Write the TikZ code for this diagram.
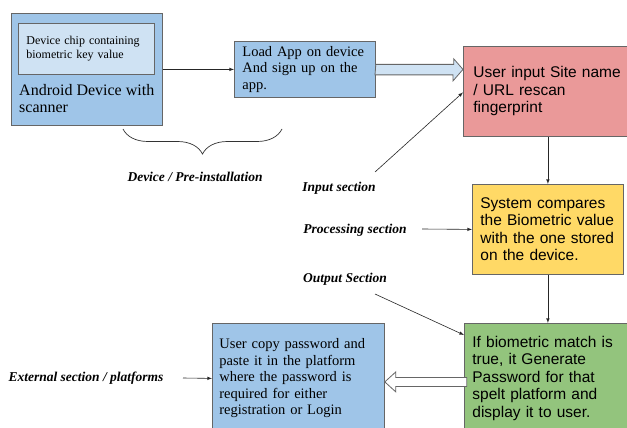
\documentclass[tikz,border=0pt]{standalone}
\usepackage{fontspec}
\setmainfont{Liberation Serif}
\newfontfamily\arialfont{Liberation Sans}
\usepackage{tikz}
\usetikzlibrary{arrows}
\usetikzlibrary{decorations.pathreplacing}

\definecolor{edgegray}{HTML}{666666}
\definecolor{devblue}{HTML}{9FC5E8}
\definecolor{chipblue}{HTML}{CFE2F3}
\definecolor{inputred}{HTML}{EA9999}
\definecolor{procyellow}{HTML}{FFD966}
\definecolor{outgreen}{HTML}{93C47D}

\tikzset{
  box/.style={draw=edgegray, line width=0.8pt, anchor=north west, inner sep=0pt, align=left},
  serifbox/.style={box, font=\fontsize{14.5}{16.5}\selectfont},
  sansbox/.style={box, font=\arialfont\fontsize{15.5}{17.5}\selectfont},
  seclabel/.style={font=\fontsize{13.5}{15}\selectfont\bfseries\itshape, inner sep=0pt},
  hollow/.style={draw=edgegray, line width=0.8pt, line join=miter},
  thinarrow/.style={->, >=latex, line width=0.6pt, draw=black!85}
}

\begin{document}
\begin{tikzpicture}[x=1pt, y=-1pt]
      \fill [white] (0,0) rectangle (627,428);
      \useasboundingbox (0,0) rectangle (627,428);

      % device / pre-installation
      \node (android) [box, fill=devblue, minimum width=151, minimum height=112] at (11,13) {};
      \node (chip) [box, fill=chipblue, font=\fontsize{12}{14}\selectfont,
        minimum width=136, minimum height=51, text width=120, inner xsep=8pt] at (18,23)
        {Device chip containing\\biometric key value};
      \node (androidtxt) [anchor=north west, inner sep=0pt, align=left,
        font=\fontsize{16}{17}\selectfont] at (19,84) {Android Device with\\scanner};
      \node (loadapp) [serifbox, fill=devblue, minimum width=141, minimum height=56,
        text width=125, inner xsep=8pt] at (234,41)
        {Load App on device\\And sign up on the\\app.};

      % sections
      \node (pink) [sansbox, fill=inputred, minimum width=180, minimum height=90,
        text width=160, inner xsep=10pt] at (463,46)
        {User input Site name\\/ URL rescan\\fingerprint};
      \node (yellow) [sansbox, fill=procyellow, minimum width=151, minimum height=90,
        text width=135, inner xsep=8pt] at (472,184)
        {System compares\\the Biometric value\\with the one stored\\on the device.};
      \node (green) [sansbox, fill=outgreen, minimum width=170, minimum height=110,
        text width=154, inner xsep=8pt] at (464,323)
        {If biometric match is\\true, it Generate\\Password for that\\spelt platform and\\display it to user.};
      \node (platform) [serifbox, fill=devblue, minimum width=172, minimum height=110,
        text width=158, inner xsep=7pt] at (212,323)
        {User copy password and\\paste it in the platform\\where the password is\\required for either\\registration or Login};

      % labels
      \node (devlabel) [seclabel] at (195,177) {Device / Pre-installation};
      \node (inlabel) [seclabel] at (339,188) {Input section};
      \node (proclabel) [seclabel] at (355,230) {Processing section};
      \node (outlabel) [seclabel] at (345,279) {Output Section};
      \node (extlabel) [seclabel] at (86,378) {External section / platforms};

      \coordinate (intail) at (375,172);
      \coordinate (proctail) at (422,229);
      \coordinate (outtail) at (375,294);
      \coordinate (exttail) at (183,378);
      \coordinate (bracel) at (123,129);
      \coordinate (bracer) at (282,129);

      \draw [decorate, decoration={brace, amplitude=25pt}, line width=0.7pt, draw=black!80] (bracer) -- (bracel);

      \draw [thinarrow] (android.east) -- (loadapp.west);
      \draw [thinarrow] (intail) -- ([yshift=-1pt]pink.west);
      \draw [thinarrow] (proctail) -- (yellow.west);
      \draw [thinarrow] (outtail) -- ([yshift=-12pt]green.north west);
      \draw [thinarrow] (exttail) -- (platform.west);
      \draw [thinarrow] (yellow.north |- pink.south) -- (yellow.north);
      \draw [thinarrow] (yellow.south) -- (yellow.south |- green.north);

      % block arrows
      \draw [hollow, fill=chipblue] ([yshift=5pt]loadapp.east) -- ++(78,0) -- ++(0,-5.5)
        -- (pink.west |- loadapp.east) -- ++(-10,11.5) -- ++(0,-6) -- ++(-78,0) -- cycle;
      \draw [hollow, fill=white] ([yshift=-3.5pt]platform.east) -- ++(11,-10) -- ++(0,5.5)
        -- ++(71,0) -- ++(0,9) -- ++(-71,0) -- ++(0,5.5) -- cycle;

    \end{tikzpicture}
\end{document}
